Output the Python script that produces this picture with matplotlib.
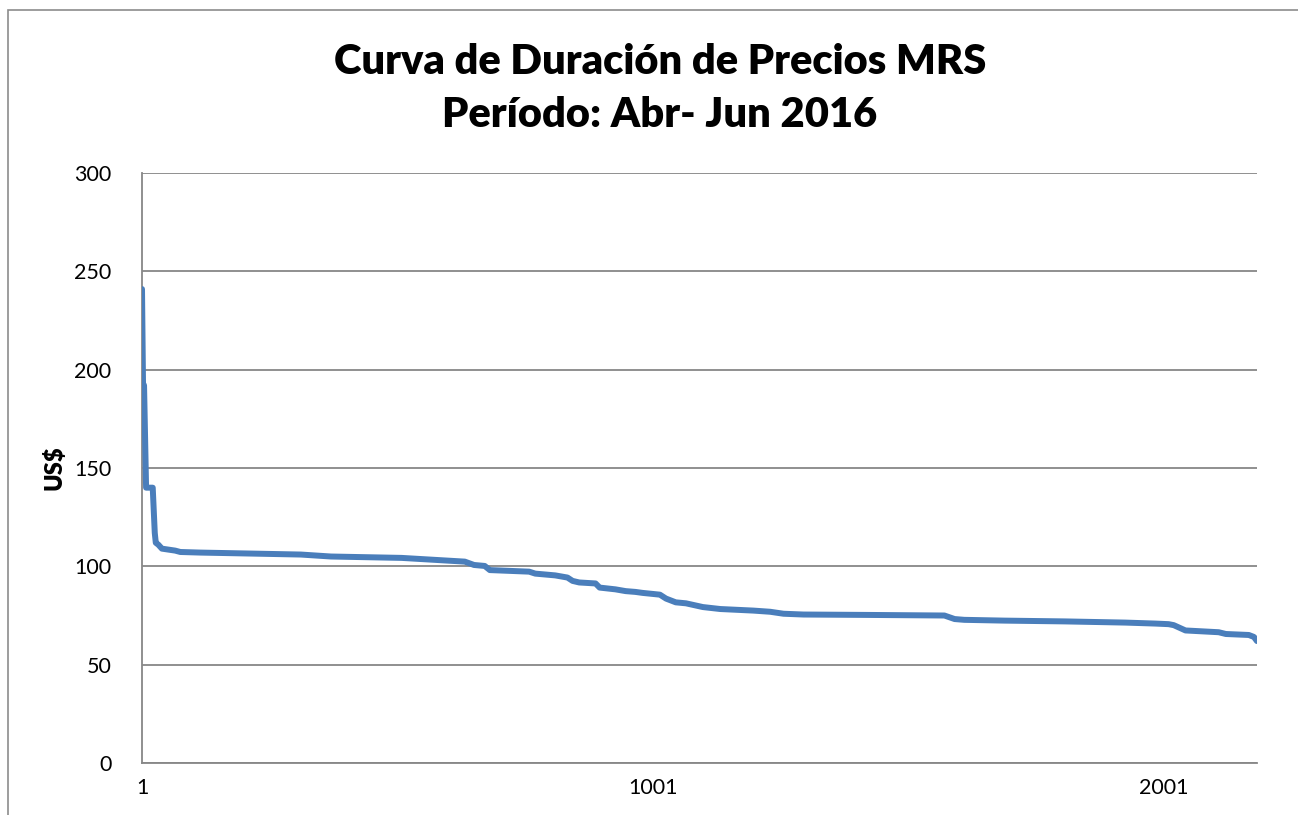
import matplotlib.pyplot as plt
from matplotlib.patches import Rectangle

# Price duration curve (hour rank, price US$)
horas = [1, 3, 5, 9, 22, 26, 28, 33, 40, 66, 76, 115, 214, 312, 371, 509,
         633, 651, 672, 682, 759, 771, 810, 834, 844, 857, 889, 897, 928,
         948, 967, 981, 1015, 1027, 1046, 1066, 1099, 1133, 1198, 1231,
         1257, 1296, 1420, 1572, 1592, 1611, 1690, 1808, 1887, 1926, 1985,
         2011, 2021, 2044, 2109, 2123, 2168, 2178, 2184]
precios = [241, 193, 192, 140, 140, 117, 112, 111, 109, 108, 107.3, 107,
           106.5, 106, 105, 104.3, 102.4, 100.7, 100.2, 98.1, 97.3, 96.3,
           95.4, 94.3, 92.6, 91.8, 91.3, 89.2, 88.3, 87.4, 87.0, 86.5, 85.6,
           83.6, 81.7, 81.2, 79.3, 78.3, 77.5, 76.9, 75.9, 75.5, 75.3, 75.0,
           73.2, 72.8, 72.4, 72.0, 71.6, 71.4, 70.9, 70.6, 70.1, 67.4, 66.5,
           65.6, 65.1, 64.1, 62.0]

n_horas = 2184
xticks = [1, 1001, 2001]
yticks = [0, 50, 100, 150, 200, 250, 300]

plt.rcParams['font.family'] = ['Lato', 'DejaVu Sans']

fig = plt.figure(figsize=(12.98, 8.15), dpi=100)
ax = fig.add_axes([0.1094, 0.0638, 0.8590, 0.7239])

# outer chart border (cut off at right/bottom like the reference)
fig.patches.append(Rectangle((8 / 1298, -0.05), 1.2, 1 - 10 / 815 + 0.05,
                             transform=fig.transFigure, fill=False,
                             edgecolor='#8c8c8c', linewidth=1.2))

ax.plot(horas, precios, color='#4a7ebb', linewidth=4.3,
        solid_capstyle='round', solid_joinstyle='round', zorder=3)

ax.set_xlim(1, n_horas)
ax.set_ylim(0, 300)
ax.set_xticks(xticks)
ax.set_yticks(yticks)
ax.tick_params(axis='both', length=0, labelsize=15.5, colors='black')
ax.tick_params(axis='y', pad=22)
ax.tick_params(axis='x', pad=11)

ax.grid(axis='y', color='#878787', linewidth=1.3)
ax.set_axisbelow(True)
for s in ['top', 'right']:
    ax.spines[s].set_visible(False)
for s in ['left', 'bottom']:
    ax.spines[s].set_color('#878787')
    ax.spines[s].set_linewidth(1.3)

ax.set_ylabel('US$', fontsize=17, fontweight='heavy', labelpad=6)

fig.text(0.5085, 0.8915, 'Curva de Duración de Precios MRS\nPeríodo: Abr- Jun 2016',
         ha='center', va='center', fontsize=30, fontweight='heavy',
         linespacing=1.46)

fig.savefig('out.png', dpi=100)
